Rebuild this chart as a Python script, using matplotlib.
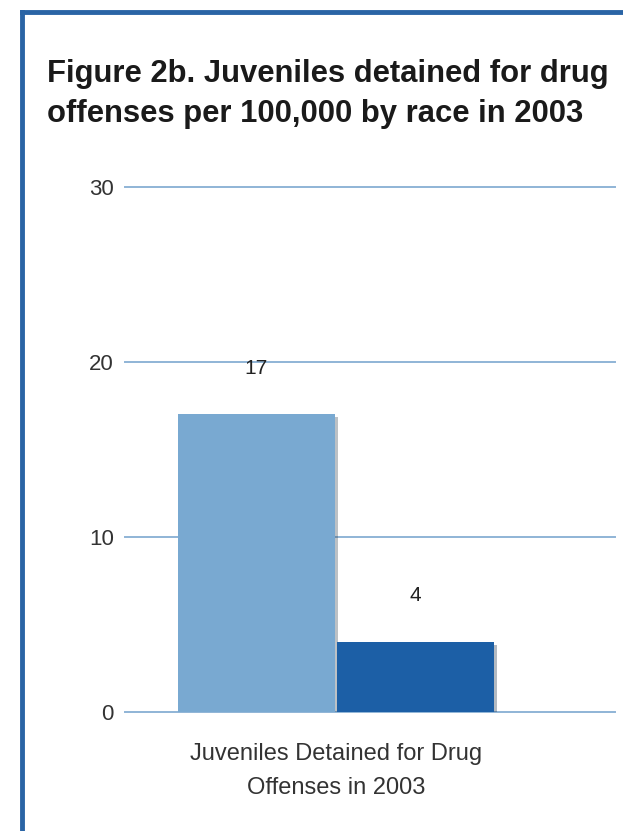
import matplotlib.pyplot as plt
import matplotlib.patheffects as pe
from matplotlib.lines import Line2D

# --- Data ---
category = "Juveniles Detained for Drug\nOffenses in 2003"
series_values = [17, 4]
series_colors = ["#79a9d1", "#1c5fa6"]
y_ticks = [0, 10, 20, 30]

plt.rcParams['font.family'] = ['Liberation Sans', 'DejaVu Sans']

fig = plt.figure(figsize=(6.23, 8.31), dpi=100)
ax = fig.add_axes([0.2006, 0.1432, 0.7864, 0.6318])

# two bars side by side around the group centre
width = 1.0
offsets = [-width / 2, width / 2]
for off, val, col in zip(offsets, series_values, series_colors):
    bar = ax.bar(off, val, width=width * 0.99, color=col, zorder=3)[0]
    bar.set_path_effects([pe.SimplePatchShadow(offset=(2, -2), alpha=0.3), pe.Normal()])
    ax.text(off, val + 2.1, f"{val}", ha='center', va='bottom', fontsize=15, color='#222222', zorder=4)

ax.set_xlim(-1.327, 1.755)
ax.set_ylim(0, 30)
ax.set_yticks(y_ticks)
ax.set_yticklabels([str(t) for t in y_ticks], fontsize=16, color='#333333')
ax.yaxis.grid(True, color='#8fb4d6', linewidth=1.4, zorder=0)
for gl in ax.get_ygridlines():
    gl.set_clip_on(False)
ax.tick_params(axis='y', length=0, pad=8)
ax.set_xticks([0])
ax.set_xticklabels([category], fontsize=17, color='#333333', linespacing=1.75)
ax.tick_params(axis='x', length=0, pad=22)
for side in ['top', 'right', 'left', 'bottom']:
    ax.spines[side].set_visible(False)

fig.text(0.0754, 0.887, "Figure 2b. Juveniles detained for drug\noffenses per 100,000 by race in 2003",
         fontsize=22.3, fontweight='bold', color='#1a1a1a', ha='left', va='center', linespacing=1.4)

# blue frame along the top and left edges
fig.add_artist(Line2D([0.035, 1.0], [0.986, 0.986], color='#2a64a5', linewidth=3.5))
fig.add_artist(Line2D([0.035, 0.035], [0.0, 0.986], color='#2a64a5', linewidth=3.5))

fig.savefig('out.png', dpi=100)
